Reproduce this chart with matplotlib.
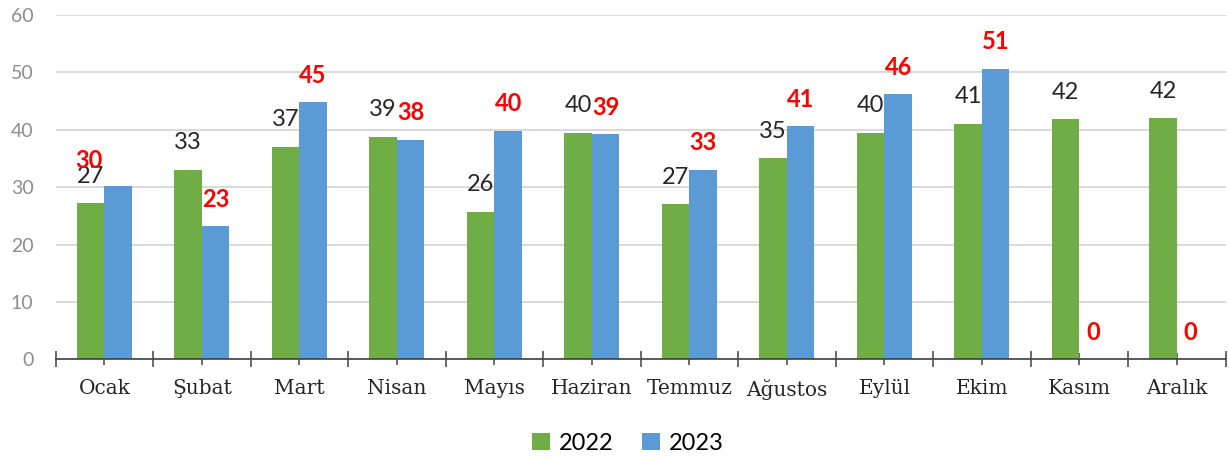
import numpy as np
import matplotlib
matplotlib.use("Agg")
import matplotlib.pyplot as plt
from matplotlib.ticker import FixedLocator

# Aylar ve seriler
months = ["Ocak", "Şubat", "Mart", "Nisan", "Mayıs", "Haziran",
          "Temmuz", "Ağustos", "Eylül", "Ekim", "Kasım", "Aralık"]
values_2022 = [27.2, 33.0, 37.0, 38.8, 25.7, 39.5, 27.0, 35.0, 39.5, 41.0, 41.8, 42.0]
values_2023 = [30.2, 23.2, 44.8, 38.2, 39.8, 39.2, 33.0, 40.6, 46.2, 50.6, 0.0, 0.0]
labels_2022 = [27, 33, 37, 39, 26, 40, 27, 35, 40, 41, 42, 42]
labels_2023 = [30, 23, 45, 38, 40, 39, 33, 41, 46, 51, 0, 0]

GREEN = "#70AD47"
BLUE = "#5B9BD5"

fig = plt.figure(figsize=(12.29, 4.62), dpi=100)
ax = fig.add_axes([0.0453, 0.2223, 0.9520, 0.7454])

x = np.arange(len(months))
w = 0.282
ax.bar(x - w / 2, values_2022, w, color=GREEN, label="2022", zorder=3)
ax.bar(x + w / 2, values_2023, w, color=BLUE, label="2023", zorder=3)

# data labels (Ocak 2023 label was dragged by hand in the original)
for i in range(len(months)):
    ax.annotate(str(labels_2022[i]), (x[i] - w / 2, values_2022[i]),
                xytext=(0, 19.5), textcoords="offset points",
                ha="center", va="center", fontsize=17, family="Lato",
                color="#262626", zorder=4)
    dx, dy = (0, 19.5) if i != 0 else (-21, 18)
    ax.annotate(str(labels_2023[i]), (x[i] + w / 2, values_2023[i]),
                xytext=(dx, dy), textcoords="offset points",
                ha="center", va="center", fontsize=17, family="Lato",
                fontweight="bold", color="#FF0000", zorder=5)

ax.set_xlim(-0.5, len(months) - 0.5)
ax.set_ylim(0, 60)
ax.set_yticks(range(0, 61, 10))
ax.yaxis.grid(True, color="#D9D9D9", linewidth=1.4, zorder=0)
ax.tick_params(axis="y", length=0, pad=16, labelsize=14, labelcolor="#8C8C8C")
for lbl in ax.get_yticklabels():
    lbl.set_family("Lato")

ax.set_xticks(x)
ax.set_xticklabels(months, family="DejaVu Serif", fontsize=14.5, color="#262626")
ax.xaxis.set_minor_locator(FixedLocator(np.arange(-0.5, len(months), 1.0)))
ax.tick_params(axis="x", which="major", direction="inout", length=9,
               width=1.1, color="#404040", pad=10)
ax.tick_params(axis="x", which="minor", direction="inout", length=11,
               width=1.1, color="#404040")

for side in ["left", "top", "right"]:
    ax.spines[side].set_visible(False)
ax.spines["bottom"].set_color("#404040")
ax.spines["bottom"].set_linewidth(1.2)
ax.spines["bottom"].set_zorder(6)

leg = fig.legend(loc="center", bbox_to_anchor=(628 / 1229, 1 - 443 / 462),
                 ncol=2, frameon=False, handlelength=0.75, handleheight=0.75,
                 handletextpad=0.4, columnspacing=1.2,
                 prop={"family": "Lato", "size": 17})

fig.savefig("out.png", dpi=100)
